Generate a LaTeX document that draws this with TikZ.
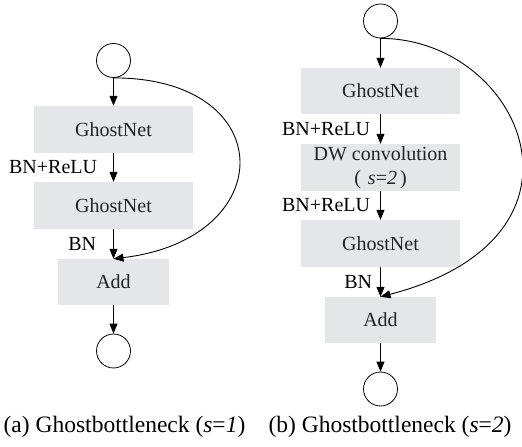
\documentclass[tikz,border=0pt]{standalone}
\usepackage{fontspec}
\setmainfont{Liberation Serif}
\usepackage{tikz}
\usetikzlibrary{arrows.meta, positioning}
\definecolor{BoxGrey}{RGB}{229,230,232}
\definecolor{InkGrey}{RGB}{35,35,35}
\tikzset{
  blk/.style={fill=BoxGrey, draw=none, minimum width=159bp, minimum height=47bp, inner sep=2pt,
    align=center, text=InkGrey, font=\fontsize{20bp}{24bp}\selectfont},
  addblk/.style={blk, minimum width=111bp, minimum height=46bp},
  io/.style={circle, draw=black, line width=0.8bp, minimum size=34bp, inner sep=0pt},
  flow/.style={-{Triangle[length=10bp, width=8bp]}, line width=0.9bp},
  lbl/.style={anchor=east, inner sep=0pt, font=\fontsize{20bp}{24bp}\selectfont},
  capt/.style={anchor=base, inner sep=0pt, font=\fontsize{23.5bp}{28bp}\selectfont},
}

\begin{document}
\begin{tikzpicture}[x=10bp, y=10bp]
    \useasboundingbox (0,0) rectangle (52.2,44.7);
    % stride 1
    \node[io] (a0) at (11.35,38.65) {};
    \node[blk] (a1) at (11.35,31.75) {GhostNet};
    \node[blk] (a2) at (11.35,24.15) {GhostNet};
    \node[addblk] (a3) at (11.35,16.5) {Add};
    \node[io] (a4) at (11.35,9.6) {};
    % stride 2
    \node[io] (b0) at (38.05,42.6) {};
    \node[blk, minimum height=46bp] (b1) at (38.05,35.6) {GhostNet};
    \node[blk] (b2) at (38.05,27.95) {DW convolution\\(\hspace{7bp}\textit{s}=\textit{2}\hspace{3bp})};
    \node[blk] (b3) at (38.05,20.35) {GhostNet};
    \node[addblk] (b4) at (38.05,12.7) {Add};
    \node[io] (b5) at (38.05,5.8) {};

    \foreach \u/\v in {a0/a1, a3/a4, b0/b1, b4/b5} \draw[flow] (\u) -- (\v);
    \draw[flow] (a1) -- node[lbl, xshift=-16bp] (la1) {BN+ReLU} (a2);
    \draw[flow] (a2) -- node[lbl, xshift=-17bp] (la2) {BN} (a3);
    \draw[flow] (b1) -- node[lbl, xshift=-10bp] (lb1) {BN+ReLU} (b2);
    \draw[flow] (b2) -- node[lbl, xshift=-10bp] (lb2) {BN+ReLU} (b3);
    \draw[flow] (b3) -- node[lbl, xshift=-8bp] (lb3) {BN} (b4);

    % shortcut branches
    \draw[flow] (a0.south) .. controls +(16.7,0) and +(16.7,2.0) .. (a3.north);
    \draw[flow] (b0.south) .. controls +(14,0) and +(23,6) .. (b4.north);

    \node[capt] (capa) at (12.45,1.43) {(a) Ghostbottleneck (\textit{s}=\textit{1})};
    \node[capt] (capb) at (39.0,1.43) {(b) Ghostbottleneck (\textit{s}=\textit{2})};
  \end{tikzpicture}
\end{document}
